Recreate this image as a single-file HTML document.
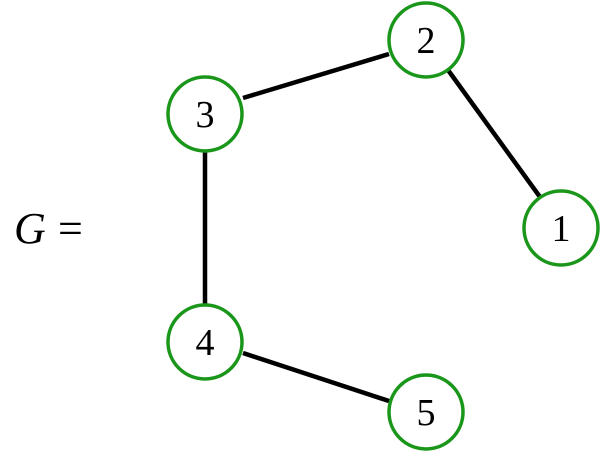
<!DOCTYPE html>
<html><head><meta charset="utf-8"><style>
html,body{margin:0;padding:0;background:#fff;}
svg{display:block}
text{font-family:"Liberation Serif","DejaVu Serif",serif;}
</style></head><body>
<svg width="600" height="452" viewBox="0 0 600 452" xmlns="http://www.w3.org/2000/svg">
<g stroke="#000" stroke-width="4.5" fill="none">
<line x1="243" y1="98" x2="389" y2="54"/>
<line x1="448" y1="70" x2="540" y2="197"/>
<line x1="205" y1="151" x2="205" y2="305"/>
<line x1="243" y1="353" x2="389" y2="401"/>
</g>
<g stroke="#1a961a" stroke-width="3.5" fill="#fff">
<circle cx="426" cy="40" r="37"/>
<circle cx="205" cy="114" r="37"/>
<circle cx="561" cy="228" r="37"/>
<circle cx="205" cy="342" r="37"/>
<circle cx="426" cy="412" r="37"/>
</g>
<g font-size="38" text-anchor="middle" fill="#000">
<text x="426" y="53">2</text>
<text x="205" y="127">3</text>
<text x="561" y="241">1</text>
<text x="205" y="355">4</text>
<text x="426" y="425">5</text>
</g>
<text x="14" y="243" font-size="44" font-style="italic">G</text>
<text x="58" y="243" font-size="44">=</text>
</svg>
</body></html>
